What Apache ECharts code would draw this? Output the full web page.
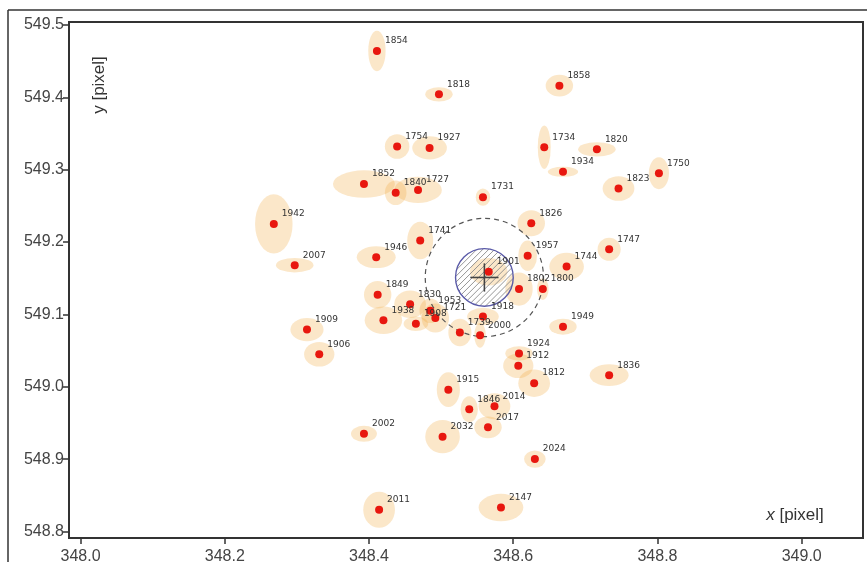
<!DOCTYPE html>
<html>
<head>
<meta charset="utf-8">
<script src="https://cdn.jsdelivr.net/npm/echarts@6/dist/echarts.min.js"></script>
<style>
  html, body { margin: 0; padding: 0; background: #fff; }
  #chart { width: 867px; height: 562px; }
</style>
</head>
<body>
<div id="chart"></div>
<script>
// Epoch labels of the measured positions
const epochs = ['1854','1818','1858','1754','1927','1734','1934','1852','1840','1727',
  '1731','1820','1750','1823','1942','2007','1741','1946','1826','1957',
  '1744','1901','1802','1800','1849','1830','1953','1721','1908','1938',
  '1918','1739','2000','1909','1906','1949','1924','1912','1747','1836',
  '1812','1915','1846','2014','2017','2002','2032','2024','2011','2147'];
// Measured x and y positions [pixel]
const xPos = [348.411,348.497,348.664,348.439,348.484,348.643,348.669,348.393,348.437,348.468,
  348.558,348.716,348.802,348.746,348.268,348.297,348.471,348.410,348.625,348.620,
  348.674,348.566,348.608,348.641,348.412,348.457,348.485,348.492,348.465,348.420,
  348.558,348.526,348.554,348.314,348.331,348.669,348.608,348.607,348.733,348.733,
  348.629,348.510,348.539,348.574,348.565,348.393,348.502,348.630,348.414,348.583];
const yPos = [549.464,549.404,549.416,549.332,549.330,549.331,549.297,549.280,549.268,549.272,
  549.262,549.328,549.295,549.274,549.225,549.168,549.202,549.179,549.226,549.181,
  549.166,549.159,549.135,549.135,549.127,549.114,549.105,549.095,549.087,549.092,
  549.097,549.075,549.071,549.079,549.045,549.083,549.046,549.029,549.190,549.016,
  549.005,548.996,548.969,548.973,548.944,548.935,548.931,548.900,548.830,548.833];
// Uncertainty ellipse semi-axes [pixel]
const errX = [0.012,0.019,0.019,0.017,0.024,0.009,0.021,0.043,0.015,0.033,
  0.010,0.026,0.014,0.022,0.026,0.026,0.018,0.027,0.019,0.013,
  0.024,0.026,0.019,0.008,0.019,0.022,0.015,0.019,0.017,0.026,
  0.022,0.016,0.008,0.023,0.021,0.019,0.019,0.021,0.016,0.027,
  0.022,0.016,0.012,0.022,0.019,0.018,0.024,0.015,0.022,0.031];
const errY = [0.028,0.010,0.015,0.017,0.016,0.030,0.007,0.019,0.017,0.018,
  0.012,0.010,0.022,0.017,0.041,0.010,0.026,0.015,0.018,0.021,
  0.019,0.019,0.023,0.015,0.019,0.019,0.017,0.020,0.010,0.019,
  0.012,0.019,0.017,0.016,0.017,0.011,0.010,0.017,0.016,0.015,
  0.019,0.024,0.018,0.018,0.015,0.011,0.023,0.012,0.025,0.019];
// Mean position, its uncertainty radius and the outer search radius
const meanPos = [348.560, 549.151];
const meanRadius = [0.040];
const searchRadius = [0.082];
// Tick values
const xTicks = [348.0, 348.2, 348.4, 348.6, 348.8, 349.0];
const yTicks = [548.8, 548.9, 549.0, 549.1, 549.2, 549.3, 549.4, 549.5];

const points = epochs.map((e, i) => [xPos[i], yPos[i], e]);
const ellipses = epochs.map((e, i) => [xPos[i], yPos[i], errX[i], errY[i]]);

const chart = echarts.init(document.getElementById('chart'), null, { renderer: 'canvas' });

const axisCommon = {
  type: 'value',
  axisLine: { show: true, onZero: false, lineStyle: { color: '#333', width: 2 } },
  axisTick: { show: true, inside: false, length: 6, lineStyle: { color: '#333', width: 1.5 } },
  axisLabel: {
    show: true, color: '#444', fontSize: 16, fontFamily: 'Liberation Sans',
    formatter: v => v.toFixed(1)
  },
  splitLine: { show: false }
};

chart.setOption({
  animation: false,
  backgroundColor: '#fff',
  grid: {
    left: 69, right: 4, top: 22, bottom: 24,
    containLabel: false, outerBoundsMode: 'none',
    show: true, borderColor: '#333', borderWidth: 2, backgroundColor: 'transparent'
  },
  xAxis: Object.assign({}, axisCommon, {
    min: 347.984, max: 349.085,
    axisTick: Object.assign({}, axisCommon.axisTick, { customValues: xTicks }),
    axisLabel: Object.assign({}, axisCommon.axisLabel, { customValues: xTicks, margin: 11 })
  }),
  yAxis: Object.assign({}, axisCommon, {
    min: 548.791, max: 549.504,
    axisTick: Object.assign({}, axisCommon.axisTick, { customValues: yTicks }),
    axisLabel: Object.assign({}, axisCommon.axisLabel, { customValues: yTicks, margin: 5 })
  }),
  graphic: [
    { type: 'line', shape: { x1: 8, y1: 10, x2: 867, y2: 10 }, style: { stroke: '#333', lineWidth: 1.5 }, silent: true },
    { type: 'line', shape: { x1: 8, y1: 10, x2: 8, y2: 562 }, style: { stroke: '#333', lineWidth: 1.5 }, silent: true },
    {
      type: 'text', x: 99, y: 85, rotation: Math.PI / 2,
      style: {
        text: 'y [pixel]', fill: '#333', font: '17px "Liberation Sans"',
        align: 'center', verticalAlign: 'middle'
      }, silent: true
    },
    {
      type: 'text', x: 795, y: 515,
      style: {
        text: '{i|x} [pixel]', fill: '#333', font: '17px "Liberation Sans"',
        align: 'center', verticalAlign: 'middle',
        rich: { i: { fontStyle: 'italic', fontSize: 17, fontFamily: 'Liberation Sans', fill: '#333' } }
      }, silent: true
    }
  ],
  series: [
    {
      // uncertainty ellipses
      type: 'custom',
      data: ellipses,
      clip: true,
      z: 1,
      renderItem: function (params, api) {
        const c = api.coord([api.value(0), api.value(1)]);
        const s = api.size([api.value(2), api.value(3)]);
        const rx = s[0], ry = s[1];
        return {
          type: 'circle',
          x: c[0], y: c[1],
          scaleX: rx / ry, scaleY: 1,
          shape: { cx: 0, cy: 0, r: ry },
          style: { fill: 'rgba(240,170,60,0.28)' },
          silent: true
        };
      }
    },
    {
      // mean position with its hatched uncertainty disc and the search circle
      type: 'custom',
      data: [[meanPos[0], meanPos[1], meanRadius[0], searchRadius[0]]],
      z: 2,
      renderItem: function (params, api) {
        const c = api.coord([api.value(0), api.value(1)]);
        const R = api.size([api.value(2), 0])[0];
        const R2 = api.size([api.value(3), 0])[0];
        const children = [];
        const gap = 4.2;
        const n = Math.floor(R / gap);
        const k = Math.SQRT1_2;
        for (let i = -n; i <= n; i++) {
          const d = i * gap;
          const t = Math.sqrt(Math.max(R * R - d * d, 0));
          const px = c[0] + d * k, py = c[1] + d * k;
          children.push({
            type: 'line',
            shape: { x1: px - t * k, y1: py + t * k, x2: px + t * k, y2: py - t * k },
            style: { stroke: '#8a8a8a', lineWidth: 0.9 }
          });
        }
        children.push({
          type: 'circle', shape: { cx: c[0], cy: c[1], r: R },
          style: { fill: 'none', stroke: '#5a5aa8', lineWidth: 1.4 }
        });
        children.push({
          type: 'circle', shape: { cx: c[0], cy: c[1], r: R2 },
          style: { fill: 'none', stroke: '#555', lineWidth: 1.2, lineDash: [5, 4] }
        });
        const arm = R * 0.49;
        children.push({
          type: 'line', shape: { x1: c[0] - arm, y1: c[1], x2: c[0] + arm, y2: c[1] },
          style: { stroke: '#444', lineWidth: 1.6 }
        });
        children.push({
          type: 'line', shape: { x1: c[0], y1: c[1] - arm, x2: c[0], y2: c[1] + arm },
          style: { stroke: '#444', lineWidth: 1.6 }
        });
        return { type: 'group', children: children, silent: true };
      }
    },
    {
      type: 'scatter',
      data: points,
      z: 3,
      symbol: 'circle',
      symbolSize: 8,
      itemStyle: { color: '#e8170f', opacity: 1 },
      label: {
        show: true,
        position: 'right',
        distance: 4,
        offset: [0, -10],
        formatter: p => p.value[2],
        color: '#333',
        fontSize: 9,
        fontFamily: 'DejaVu Sans'
      },
      emphasis: { disabled: true }
    }
  ]
});
</script>
</body>
</html>
